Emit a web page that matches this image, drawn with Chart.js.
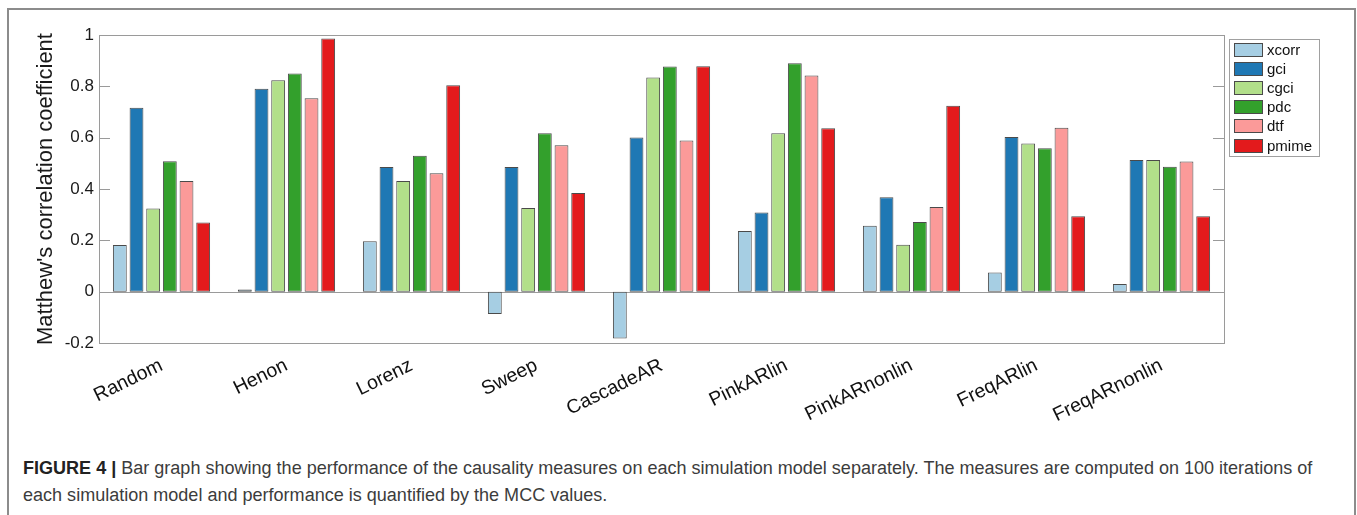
<!DOCTYPE html>
<html><head><meta charset="utf-8">
<script src="https://cdn.jsdelivr.net/npm/chart.js@4.4.1/dist/chart.umd.min.js"></script>
<style>
html,body{margin:0;padding:0;background:#fff;width:1357px;height:515px;overflow:hidden;font-family:"Liberation Sans",Arial,Helvetica,sans-serif;}
#wrap{position:absolute;left:0;top:0;width:1357px;height:440px;}
#frame{position:absolute;left:7px;top:8px;width:1349px;height:530px;border:2px solid #8c8c8c;box-sizing:border-box;}
.cap{position:absolute;left:23px;white-space:nowrap;color:#3c3c3c;font-size:16px;line-height:20px;}
.cap b{color:#222;}
</style></head><body>
<div id="frame"></div>
<div id="wrap"><canvas id="c" width="1357" height="440"></canvas></div>
<div class="cap" id="cap1" style="top:458px;"><b>FIGURE 4 |</b> Bar graph showing the performance of the causality measures on each simulation model separately. The measures are computed on 100 iterations of</div>
<div class="cap" id="cap2" style="top:485px;">each simulation model and performance is quantified by the MCC values.</div>
<script>
const categories = ['Random','Henon','Lorenz','Sweep','CascadeAR','PinkARlin','PinkARnonlin','FreqARlin','FreqARnonlin'];
const seriesNames = ['xcorr','gci','cgci','pdc','dtf','pmime'];
const xcorr = [0.182, 0.008, 0.196, -0.087, -0.182, 0.236, 0.257, 0.075, 0.030];
const gci   = [0.717, 0.791, 0.486, 0.486, 0.601, 0.308, 0.368, 0.603, 0.513];
const cgci  = [0.324, 0.824, 0.431, 0.326, 0.834, 0.617, 0.183, 0.577, 0.513];
const pdc   = [0.508, 0.850, 0.530, 0.617, 0.877, 0.890, 0.271, 0.559, 0.487];
const dtf   = [0.431, 0.754, 0.461, 0.570, 0.589, 0.842, 0.330, 0.639, 0.507];
const pmime = [0.269, 0.986, 0.804, 0.384, 0.878, 0.637, 0.724, 0.294, 0.294];
const yTicks = [-0.2, 0, 0.2, 0.4, 0.6, 0.8, 1];
const colors = ['#a6cee3','#1f78b4','#b2df8a','#33a02c','#fb9a99','#e31a1c'];

// fit caption width
(function(){
  const c1 = document.getElementById('cap1'), c2 = document.getElementById('cap2');
  const w = c1.getBoundingClientRect().width;
  const fs = 16 * 1290 / w;
  c1.style.fontSize = fs + 'px'; c2.style.fontSize = fs + 'px';
})();

Chart.defaults.font.family = "'Liberation Sans', Arial, Helvetica, sans-serif";
Chart.defaults.color = '#1a1a1a';

const seriesData = [xcorr, gci, cgci, pdc, dtf, pmime];
const datasets = seriesNames.map((n, i) => ({
  label: n,
  data: seriesData[i],
  backgroundColor: colors[i],
  borderColor: '#4a4a4a',
  borderWidth: 1,
  borderSkipped: false,
  categoryPercentage: 0.8,
  barPercentage: 0.83
}));

const boxPlugin = {
  id: 'boxPlugin',
  beforeDatasetsDraw(chart) {
    const {ctx, chartArea: a, scales: {y}} = chart;
    const py = Math.round(y.getPixelForValue(0)) + 0.5;
    ctx.save();
    ctx.strokeStyle = '#9a9a9a'; ctx.lineWidth = 1;
    ctx.beginPath(); ctx.moveTo(a.left, py); ctx.lineTo(a.right, py); ctx.stroke();
    ctx.restore();
  },
  afterDatasetsDraw(chart) {
    const {ctx, chartArea: a, scales: {y}} = chart;
    ctx.save();
    ctx.strokeStyle = '#9a9a9a'; ctx.lineWidth = 1;
    ctx.strokeRect(Math.round(a.left) + 0.5, Math.round(a.top) + 0.5, Math.round(a.right - a.left), Math.round(a.bottom - a.top));
    ctx.beginPath();
    y.ticks.forEach(t => {
      const py = Math.round(y.getPixelForValue(t.value)) + 0.5;
      ctx.moveTo(a.left, py); ctx.lineTo(a.left + 11, py);
      ctx.moveTo(a.right - 11, py); ctx.lineTo(a.right, py);
    });
    ctx.stroke();
    // legend
    const lx = a.right + 5, ly = a.top + 4, lw = 90, lh = 117;
    ctx.fillStyle = '#fff';
    ctx.fillRect(lx, ly, lw, lh);
    ctx.strokeStyle = '#a0a0a0';
    ctx.strokeRect(lx + 0.5, ly + 0.5, lw, lh);
    ctx.font = "15px 'Liberation Sans', Arial, sans-serif";
    ctx.textBaseline = 'middle';
    chart.data.datasets.forEach((ds, i) => {
      const sy = ly + 4 + i * 19.1;
      ctx.fillStyle = ds.backgroundColor;
      ctx.fillRect(lx + 5, Math.round(sy), 29, 14);
      ctx.strokeStyle = '#4a4a4a';
      ctx.strokeRect(lx + 5.5, Math.round(sy) + 0.5, 28, 13);
      ctx.fillStyle = '#111';
      ctx.fillText(ds.label, lx + 38, Math.round(sy) + 7.5);
    });
    ctx.restore();
  }
};

new Chart(document.getElementById('c'), {
  type: 'bar',
  data: { labels: categories, datasets },
  options: {
    responsive: false,
    animation: false,
    devicePixelRatio: 1,
    layout: { padding: { left: 0, right: 133, top: 35, bottom: 0 } },
    plugins: { legend: { display: false }, tooltip: { enabled: false } },
    scales: {
      x: {
        grid: { display: false, drawTicks: false },
        border: { display: false },
        ticks: { autoSkip: false, minRotation: 26, maxRotation: 26, padding: 11, font: { size: 19.5 }, color: '#111' },
        afterFit: s => { s.height = 97; }
      },
      y: {
        min: -0.2, max: 1,
        grid: { display: false, drawTicks: false },
        border: { display: false },
        afterBuildTicks: s => { s.ticks = yTicks.map(v => ({ value: v })); },
        ticks: { padding: 5, font: { size: 17 }, color: '#1a1a1a', callback: v => String(v) },
        title: { display: true, text: "Matthew's correlation coefficient", font: { size: 22 }, color: '#1a1a1a', padding: { top: 33, bottom: 0 } },
        afterFit: s => { s.width = 99; }
      }
    }
  },
  plugins: [boxPlugin]
});
</script>
</body></html>
